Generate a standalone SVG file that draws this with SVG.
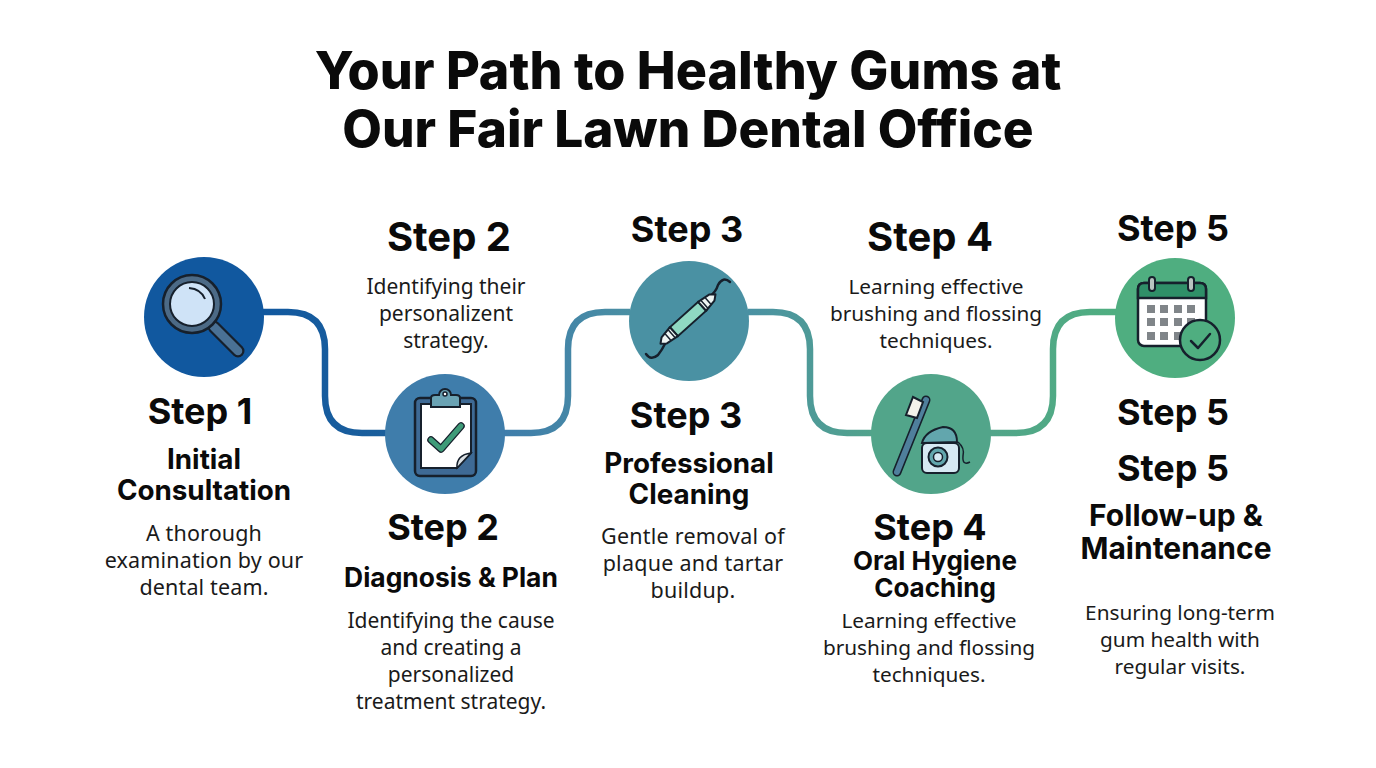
<svg xmlns="http://www.w3.org/2000/svg" width="1376" height="768" viewBox="0 0 1376 768">
<style>
text{font-family:"Inter","Liberation Sans",sans-serif;text-anchor:middle;fill:#0a0a0a}
.title{font-size:52px;font-weight:800}
.step{font-size:36px;font-weight:700}
.big{font-size:40px}
.name{font-size:27.8px;font-weight:700}
.body{font-family:"Noto Sans","Open Sans",sans-serif;font-size:21px;fill:#1a1a1a}
.conn{fill:none;stroke-width:6.5}
</style>
<defs>
<linearGradient id="g1" gradientUnits="userSpaceOnUse" x1="262" y1="0" x2="387" y2="0"><stop offset="0" stop-color="#11589f"/><stop offset="1" stop-color="#1b5f9c"/></linearGradient>
<linearGradient id="g2" gradientUnits="userSpaceOnUse" x1="503" y1="0" x2="630" y2="0"><stop offset="0" stop-color="#3f7dab"/><stop offset="1" stop-color="#4a8fa3"/></linearGradient>
<linearGradient id="g3" gradientUnits="userSpaceOnUse" x1="748" y1="0" x2="872" y2="0"><stop offset="0" stop-color="#4a91a3"/><stop offset="1" stop-color="#52a38c"/></linearGradient>
<linearGradient id="g4" gradientUnits="userSpaceOnUse" x1="989" y1="0" x2="1117" y2="0"><stop offset="0" stop-color="#52a58a"/><stop offset="1" stop-color="#4fae80"/></linearGradient>
</defs>
<rect width="1376" height="768" fill="#fff"/>
<g id="title">
<text class="title" x="688" y="89">Your Path to Healthy Gums at</text>
<text class="title" style="font-size:51.3px" x="688" y="147">Our Fair Lawn Dental Office</text>
</g>
<g id="connectors">
<path class="conn" stroke="url(#g1)" d="M262 312H288Q325 312 325 349V396Q325 433 362 433H387"/>
<path class="conn" stroke="url(#g2)" d="M503 433H531Q568 433 568 396V349Q568 312 605 312H630"/>
<path class="conn" stroke="url(#g3)" d="M748 312H773Q810 312 810 349V396Q810 433 847 433H872"/>
<path class="conn" stroke="url(#g4)" d="M989 433H1016Q1053 433 1053 396V349Q1053 312 1090 312H1117"/>
</g>
<g id="step1">
<circle cx="204" cy="317" r="60" fill="#11589f"/>
<line x1="214" y1="327" x2="238" y2="351" stroke="#16202c" stroke-width="13" stroke-linecap="round"/>
<line x1="214" y1="327" x2="238" y2="351" stroke="#4a7195" stroke-width="8.5" stroke-linecap="round"/>
<circle cx="192" cy="304" r="29" fill="#4c6a86" stroke="#16202c" stroke-width="2.5"/>
<circle cx="192" cy="304" r="22" fill="#cfe3f7" stroke="#16202c" stroke-width="2"/>
<path d="M189 288Q201 289 205 299" fill="none" stroke="#16202c" stroke-width="2"/>
<text class="step" x="200" y="424">Step 1</text>
<text class="name" x="204" y="469">Initial</text>
<text class="name" x="204" y="500">Consultation</text>
<text class="body" style="font-size:21.5px;letter-spacing:.15px" x="204" y="541">A thorough</text>
<text class="body" style="font-size:21.5px;letter-spacing:.15px" x="204" y="568">examination by our</text>
<text class="body" style="font-size:21.5px;letter-spacing:.15px" x="204" y="595">dental team.</text>
</g>
<g id="step2">
<text class="step big" x="449" y="251">Step 2</text>
<text class="body" x="446" y="294">Identifying their</text>
<text class="body" x="446" y="321">personalizent</text>
<text class="body" x="446" y="348">strategy.</text>
<circle cx="445" cy="434" r="60" fill="#3f7dab"/>
<rect x="415" y="398" width="61" height="78" rx="5" fill="#3e6a95" stroke="#16202c" stroke-width="2.5"/>
<path d="M421 404H471V453L457 468H421Z" fill="#fff" stroke="#16202c" stroke-width="2"/>
<path d="M457 468Q456 455 471 453Z" fill="#dde2e5" stroke="#16202c" stroke-width="1.5"/>
<path d="M431 407V398Q431 395 435 395H439A6 6 0 0 1 451 395H456Q460 395 460 398V407Z" fill="#6aa3b4" stroke="#16202c" stroke-width="2"/>
<circle cx="445" cy="394" r="2" fill="#fff" stroke="#16202c" stroke-width="1.5"/>
<path d="M431 440L441 449L461 426" fill="none" stroke="#16202c" stroke-width="7.5" stroke-linecap="round" stroke-linejoin="round"/>
<path d="M431 440L441 449L461 426" fill="none" stroke="#3e9b78" stroke-width="5" stroke-linecap="round" stroke-linejoin="round"/>
<text class="step" x="443" y="540">Step 2</text>
<text class="name" style="font-size:26.4px" x="451" y="587">Diagnosis &amp; Plan</text>
<text class="body" x="451" y="628">Identifying the cause</text>
<text class="body" x="451" y="655">and creating a</text>
<text class="body" x="451" y="682">personalized</text>
<text class="body" x="451" y="709">treatment strategy.</text>
</g>
<g id="step3">
<text class="step" x="687" y="242">Step 3</text>
<circle cx="689" cy="321" r="60" fill="#4a91a3"/>
<path d="M709 297Q716 292 718 285Q723 276 730 282" fill="none" stroke="#16202c" stroke-width="2.5" stroke-linecap="round"/>
<path d="M666 342Q662 350 658 355Q651 361 646 354" fill="none" stroke="#16202c" stroke-width="2.5" stroke-linecap="round"/>
<g transform="rotate(-42 688 319)">
<rect x="669" y="313" width="38" height="12" fill="#8fd8c2" stroke="#16202c" stroke-width="2"/>
<path d="M669 313L656 315L651 319L656 323L669 325ZM707 313L720 315L725 319L720 323L707 325Z" fill="#eef5f3" stroke="#16202c" stroke-width="2" stroke-linejoin="round"/>
<path d="M661 315V323M666 314V324M710 314V324M715 315V323" stroke="#16202c" stroke-width="1.5"/>
</g>
<text class="step" x="686" y="428">Step 3</text>
<text class="name" x="689" y="473">Professional</text>
<text class="name" x="689" y="504">Cleaning</text>
<text class="body" style="font-size:21.5px;letter-spacing:.24px" x="693" y="544">Gentle removal of</text>
<text class="body" style="font-size:21.5px;letter-spacing:.24px" x="693" y="571">plaque and tartar</text>
<text class="body" style="font-size:21.5px;letter-spacing:.24px" x="693" y="598">buildup.</text>
</g>
<g id="step4">
<text class="step big" x="930" y="251">Step 4</text>
<text class="body" style="font-size:20.8px" x="936" y="294">Learning effective</text>
<text class="body" style="font-size:20.8px" x="936" y="321">brushing and flossing</text>
<text class="body" style="font-size:20.8px" x="936" y="348">techniques.</text>
<circle cx="931" cy="434" r="60" fill="#52a58a"/>
<path d="M897 472L926 400" stroke="#16202c" stroke-width="9" stroke-linecap="round"/>
<path d="M897 472L926 400" stroke="#4f7f9c" stroke-width="6" stroke-linecap="round"/>
<path d="M906 415L913 397L923 402L917 418Z" fill="#f2f2ea" stroke="#16202c" stroke-width="2"/>
<path d="M922 443Q925 431 943 427Q957 427 957 442Z" fill="#62a6ad" stroke="#16202c" stroke-width="2"/>
<rect x="922" y="443" width="37" height="30" rx="5" fill="#d6e9f3" stroke="#16202c" stroke-width="2"/>
<circle cx="938" cy="457" r="9.5" fill="#62a6ad" stroke="#16202c" stroke-width="2"/>
<circle cx="938" cy="457" r="4.5" fill="#d6e9f3" stroke="#16202c" stroke-width="1.5"/>
<path d="M958 442Q965 448 963 456Q962 466 970 462" fill="none" stroke="#16202c" stroke-width="1.5"/>
<text class="step" x="930" y="540">Step 4</text>
<text class="name" style="font-size:26px" x="935" y="570">Oral Hygiene</text>
<text class="name" style="font-size:26px" x="935" y="597">Coaching</text>
<text class="body" style="font-size:20.8px" x="929" y="628">Learning effective</text>
<text class="body" style="font-size:20.8px" x="929" y="655">brushing and flossing</text>
<text class="body" style="font-size:20.8px" x="929" y="682">techniques.</text>
</g>
<g id="step5">
<text class="step" x="1173" y="241">Step 5</text>
<circle cx="1175" cy="318" r="60" fill="#4fae80"/>
<rect x="1138" y="283" width="68" height="63" rx="6" fill="#fff" stroke="#16202c" stroke-width="2.5"/>
<path d="M1138 298V289Q1138 283 1144 283H1200Q1206 283 1206 289V298Z" fill="#2f8f68" stroke="#16202c" stroke-width="2.5"/>
<rect x="1149" y="277" width="6" height="14" rx="3" fill="#b9c4c0" stroke="#16202c" stroke-width="2"/>
<rect x="1188" y="277" width="6" height="14" rx="3" fill="#b9c4c0" stroke="#16202c" stroke-width="2"/>
<path fill="#808589" d="M1147 305h8v8h-8zM1160 305h8v8h-8zM1174 305h8v8h-8zM1187 305h8v8h-8zM1147 318h8v8h-8zM1160 318h8v8h-8zM1174 318h8v8h-8zM1187 318h8v8h-8zM1147 332h8v8h-8zM1160 332h8v8h-8zM1174 332h8v8h-8z"/>
<circle cx="1200" cy="340" r="20" fill="#4fae80" stroke="#16202c" stroke-width="2.5"/>
<path d="M1191 341L1198 348L1210 334" fill="none" stroke="#16202c" stroke-width="2.5" stroke-linecap="round" stroke-linejoin="round"/>
<text class="step" x="1173" y="425">Step 5</text>
<text class="step" x="1173" y="481">Step 5</text>
<text class="name" style="font-size:30px" x="1176" y="526">Follow-up &amp;</text>
<text class="name" style="font-size:30px" x="1176" y="559">Maintenance</text>
<text class="body" style="font-size:20.8px" x="1180" y="620">Ensuring long-term</text>
<text class="body" style="font-size:20.8px" x="1180" y="647">gum health with</text>
<text class="body" style="font-size:20.8px" x="1180" y="674">regular visits.</text>
</g>
</svg>
